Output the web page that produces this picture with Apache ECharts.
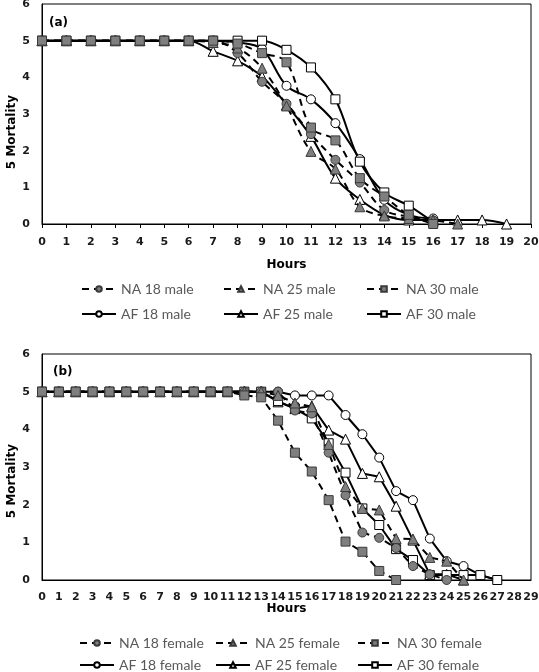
<!DOCTYPE html>
<html><head><meta charset="utf-8">
<script src="https://cdn.jsdelivr.net/npm/echarts@6/dist/echarts.min.js"></script>
<style>html,body{margin:0;padding:0;background:#fff}#c{width:539px;height:672px}</style>
</head><body><div id="c"></div>
<script>
// ---- data: chart (a) males ----
const maleHours = [0,1,2,3,4,5,6,7,8,9,10,11,12,13,14,15,16,17,18,19];
const maleTicks = [0,1,2,3,4,5,6,7,8,9,10,11,12,13,14,15,16,17,18,19,20];
const NA18male = [5,5,5,5,5,5,5,5,4.66,3.88,3.28,2.45,1.75,1.13,0.38,0.2,0.1];
const NA25male = [5,5,5,5,5,5,5,4.95,4.8,4.25,3.22,1.98,1.5,0.47,0.22,0.15,0.1,0];
const NA30male = [5,5,5,5,5,5,5,5,4.92,4.66,4.41,2.63,2.28,1.25,0.75,0.25,0];
const AF18male = [5,5,5,5,5,5,5,5,4.95,4.77,3.77,3.4,2.75,1.77,0.66,0.25,0.15];
const AF25male = [5,5,5,5,5,5,5,4.71,4.45,4.02,3.25,2.39,1.25,0.67,0.25,0.11,0.11,0.11,0.11,0];
const AF30male = [5,5,5,5,5,5,5,5,5,5,4.75,4.27,3.4,1.7,0.86,0.5,0.05];
// ---- data: chart (b) females ----
const femaleHours = [0,1,2,3,4,5,6,7,8,9,10,11,12,13,14,15,16,17,18,19,20,21,22,23,24,25,26,27];
const femaleTicks = [0,1,2,3,4,5,6,7,8,9,10,11,12,13,14,15,16,17,18,19,20,21,22,23,24,25,26,27,28,29];
const NA18female = [5,5,5,5,5,5,5,5,5,5,5,5,5,5,5,4.5,4.42,3.38,2.25,1.26,1.12,0.85,0.37,0.15,0];
const NA25female = [5,5,5,5,5,5,5,5,5,5,5,5,5,5,4.9,4.7,4.6,3.6,2.48,1.9,1.86,1.1,1.09,0.6,0.5,0];
const NA30female = [5,5,5,5,5,5,5,5,5,5,5,5,4.9,4.85,4.23,3.38,2.88,2.12,1.02,0.75,0.24,0];
const AF18female = [5,5,5,5,5,5,5,5,5,5,5,5,5,5,5,4.9,4.9,4.9,4.38,3.87,3.25,2.36,2.12,1.1,0.5,0.37,0.13,0];
const AF25female = [5,5,5,5,5,5,5,5,5,5,5,5,5,5,4.73,4.55,4.62,3.98,3.74,2.83,2.74,1.96,1.06,0.15,0.15,0];
const AF30female = [5,5,5,5,5,5,5,5,5,5,5,5,5,5,4.75,4.55,4.29,3.63,2.85,1.9,1.46,0.82,0.53,0.13,0.13,0.13,0.13,0];
const yTicks = [0,1,2,3,4,5,6];

const chart = echarts.init(document.getElementById('c'), null, {renderer:'canvas'});
const boldFont = 'DejaVu Sans';
const legFont = 'Lato';

function pairs(hours, vals){ return vals.map((v,i)=>[hours[i], v]); }

function mk(name, hours, vals, idx, na, sym, smooth){
  return {
    name, type:'line', xAxisIndex:idx, yAxisIndex:idx,
    data: pairs(hours, vals),
    smooth: smooth ? 0.35 : false,
    symbol: sym,
    symbolSize: sym==='triangle' ? 10 : 9,
    showAllSymbol: true,
    lineStyle: { color:'#000', width: 2, type: na ? [7,5] : 'solid' },
    itemStyle: na ? { color:'#7f7f7f', borderColor:'#3a3a3a', borderWidth:1 }
                  : { color:'#fff', borderColor:'#000', borderWidth:1 },
    emphasis: { disabled:true },
    z: na ? 3 : 2
  };
}

const series = [
  mk('NA 18 male', maleHours, NA18male, 0, true, 'circle', true),
  mk('NA 25 male', maleHours, NA25male, 0, true, 'triangle', true),
  mk('NA 30 male', maleHours, NA30male, 0, true, 'rect', true),
  mk('AF 18 male', maleHours, AF18male, 0, false, 'circle', true),
  mk('AF 25 male', maleHours, AF25male, 0, false, 'triangle', true),
  mk('AF 30 male', maleHours, AF30male, 0, false, 'rect', true),
  mk('NA 18 female', femaleHours, NA18female, 1, true, 'circle', false),
  mk('NA 25 female', femaleHours, NA25female, 1, true, 'triangle', false),
  mk('NA 30 female', femaleHours, NA30female, 1, true, 'rect', false),
  mk('AF 18 female', femaleHours, AF18female, 1, false, 'circle', false),
  mk('AF 25 female', femaleHours, AF25female, 1, false, 'triangle', false),
  mk('AF 30 female', femaleHours, AF30female, 1, false, 'rect', false)
];

const legPos = [
  ['NA 18 male', 81, 282], ['NA 25 male', 223, 282], ['NA 30 male', 366, 282],
  ['AF 18 male', 81, 307], ['AF 25 male', 223, 307], ['AF 30 male', 366, 307],
  ['NA 18 female', 79, 636], ['NA 25 female', 215, 636], ['NA 30 female', 357, 636],
  ['AF 18 female', 79, 658], ['AF 25 female', 215, 658], ['AF 30 female', 357, 658]
];
const legends = legPos.map(([n,x,y]) => ({
  data:[n], left:x, top:y, itemWidth:34, itemHeight:7, itemGap:0,
  textStyle:{ fontFamily:legFont, fontSize:14, color:'#595959', padding:[0,0,0,0] },
  padding:0, selectedMode:false
}));

function xAx(idx, ticks, nameGap, margin, showTicks){
  return {
    type:'value', gridIndex:idx, min:ticks[0], max:ticks[ticks.length-1], interval:1,
    name:'Hours', nameLocation:'middle', nameGap, nameMoveOverlap:false,
    nameTextStyle:{ fontFamily:boldFont, fontWeight:'bold', fontSize:12, color:'#000' },
    axisLine:{ show:true, onZero:false, lineStyle:{ color:'#000', width:1 } },
    axisTick:{ show:showTicks, length:4, inside:false, lineStyle:{ color:'#000' } },
    axisLabel:{ fontFamily:boldFont, fontWeight:'bold', fontSize:11, color:'#1a1a1a', margin },
    splitLine:{ show:false }
  };
}
function yAx(idx, shift){
  return {
    type:'value', gridIndex:idx, min:yTicks[0], max:yTicks[yTicks.length-1], interval:1,
    name:'5 Mortality', nameLocation:'middle', nameGap:24, nameRotate:90, nameMoveOverlap:false,
    nameTextStyle:{ fontFamily:boldFont, fontWeight:'bold', fontSize:12, color:'#000', padding:[0, shift, 0, 0] },
    axisLine:{ show:true, lineStyle:{ color:'#000', width:1 } },
    axisTick:{ show:false },
    axisLabel:{ fontFamily:boldFont, fontWeight:'bold', fontSize:11, color:'#1a1a1a', margin:12 },
    splitLine:{ show:false }
  };
}

chart.setOption({
  animation:false,
  backgroundColor:'#fff',
  grid:[
    { left:42, top:4, width:489, height:220, show:true, borderColor:'#000', borderWidth:1, backgroundColor:'transparent', containLabel:false, outerBoundsMode:'none' },
    { left:42, top:354, width:489, height:226, show:true, borderColor:'#000', borderWidth:1, backgroundColor:'transparent', containLabel:false, outerBoundsMode:'none' }
  ],
  xAxis:[ xAx(0, maleTicks, 35, 13, true), xAx(1, femaleTicks, 23, 12, false) ],
  yAxis:[ yAx(0, 36), yAx(1, 28) ],
  legend: legends,
  graphic:[
    { type:'text', left:49, top:17, style:{ text:'(a)', font:'bold 12px DejaVu Sans', fill:'#000' } },
    { type:'text', left:53, top:366, style:{ text:'(b)', font:'bold 12px DejaVu Sans', fill:'#000' } }
  ],
  series
});
</script></body></html>
